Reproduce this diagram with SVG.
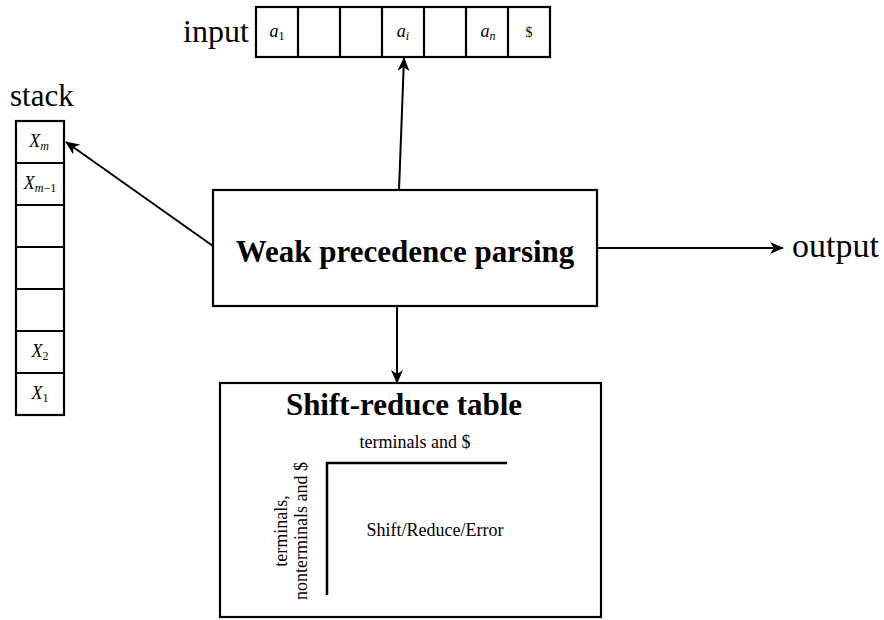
<svg xmlns="http://www.w3.org/2000/svg" width="884" height="620" viewBox="0 0 884 620">
<defs>
<style>
.box{fill:#fff;stroke:#000;stroke-width:2.2}
.cell{fill:none;stroke:#000;stroke-width:2.2}
.lbl{font-family:"Liberation Serif","Times New Roman",serif;fill:#000}
.bold{font-weight:bold;font-size:31px}
.small{font-size:18px}
.math{font-family:"Liberation Serif","Times New Roman",serif;font-style:italic;font-size:18px;fill:#000}
.sub{font-size:12px;font-style:normal}
.subi{font-size:12px;font-style:italic}
.conn{stroke:#000;stroke-width:2;fill:none;marker-end:url(#ah)}
</style>
<marker id="ah" markerUnits="userSpaceOnUse" markerWidth="14" markerHeight="12" viewBox="0 0 14 12" refX="13" refY="6" orient="auto">
<path d="M0,0 L14,6 L0,12 L4,6 Z" fill="#000"/>
</marker>
</defs>

<g id="input">
<text class="lbl" x="183" y="42" font-size="32">input</text>
<rect class="cell" x="256" y="7" width="294" height="50"/>
<line class="cell" x1="298" y1="7" x2="298" y2="57"/>
<line class="cell" x1="340" y1="7" x2="340" y2="57"/>
<line class="cell" x1="382" y1="7" x2="382" y2="57"/>
<line class="cell" x1="424" y1="7" x2="424" y2="57"/>
<line class="cell" x1="466" y1="7" x2="466" y2="57"/>
<line class="cell" x1="508" y1="7" x2="508" y2="57"/>
<text class="math" x="277" y="37" text-anchor="middle">a<tspan class="sub" dy="3">1</tspan></text>
<text class="math" x="403" y="37" text-anchor="middle">a<tspan class="subi" dy="3">i</tspan></text>
<text class="math" x="488" y="37" text-anchor="middle">a<tspan class="subi" dy="3">n</tspan></text>
<text class="lbl" x="529" y="37" font-size="14" text-anchor="middle">$</text>
</g>

<g id="stack">
<text class="lbl" x="10" y="106" font-size="31">stack</text>
<rect class="cell" x="16" y="121" width="48" height="294"/>
<line class="cell" x1="16" y1="163" x2="64" y2="163"/>
<line class="cell" x1="16" y1="205" x2="64" y2="205"/>
<line class="cell" x1="16" y1="247" x2="64" y2="247"/>
<line class="cell" x1="16" y1="289" x2="64" y2="289"/>
<line class="cell" x1="16" y1="331" x2="64" y2="331"/>
<line class="cell" x1="16" y1="373" x2="64" y2="373"/>
<text class="math" x="39" y="147" text-anchor="middle">X<tspan class="subi" dy="3">m</tspan></text>
<text class="math" x="40" y="189" text-anchor="middle">X<tspan class="subi" dy="3">m</tspan><tspan class="sub">−1</tspan></text>
<text class="math" x="40" y="357" text-anchor="middle">X<tspan class="sub" dy="3">2</tspan></text>
<text class="math" x="40" y="399" text-anchor="middle">X<tspan class="sub" dy="3">1</tspan></text>
</g>

<g id="parser">
<rect class="box" x="213" y="190" width="384" height="116"/>
<text class="lbl bold" x="405" y="262" text-anchor="middle">Weak precedence parsing</text>
</g>

<g id="table">
<rect class="box" x="220" y="383" width="381" height="234"/>
<text class="lbl bold" x="404" y="415" text-anchor="middle">Shift-reduce table</text>
<text class="lbl small" x="415" y="448" text-anchor="middle">terminals and $</text>
<path d="M327,595 L327,463 L507,463" fill="none" stroke="#000" stroke-width="2.5"/>
<text class="lbl small" x="435" y="536" text-anchor="middle">Shift/Reduce/Error</text>
<text class="lbl small" transform="translate(287,531) rotate(-90)" text-anchor="middle">terminals,</text>
<text class="lbl small" transform="translate(307,531) rotate(-90)" text-anchor="middle">nonterminals and $</text>
</g>

<g id="output">
<text class="lbl" x="792" y="257" font-size="34">output</text>
</g>

<g id="connectors">
<line class="conn" x1="399" y1="190" x2="404" y2="58"/>
<line class="conn" x1="213" y1="246" x2="66" y2="142"/>
<line class="conn" x1="597" y1="248" x2="783" y2="248"/>
<line class="conn" x1="397" y1="306" x2="397" y2="383"/>
</g>
</svg>
